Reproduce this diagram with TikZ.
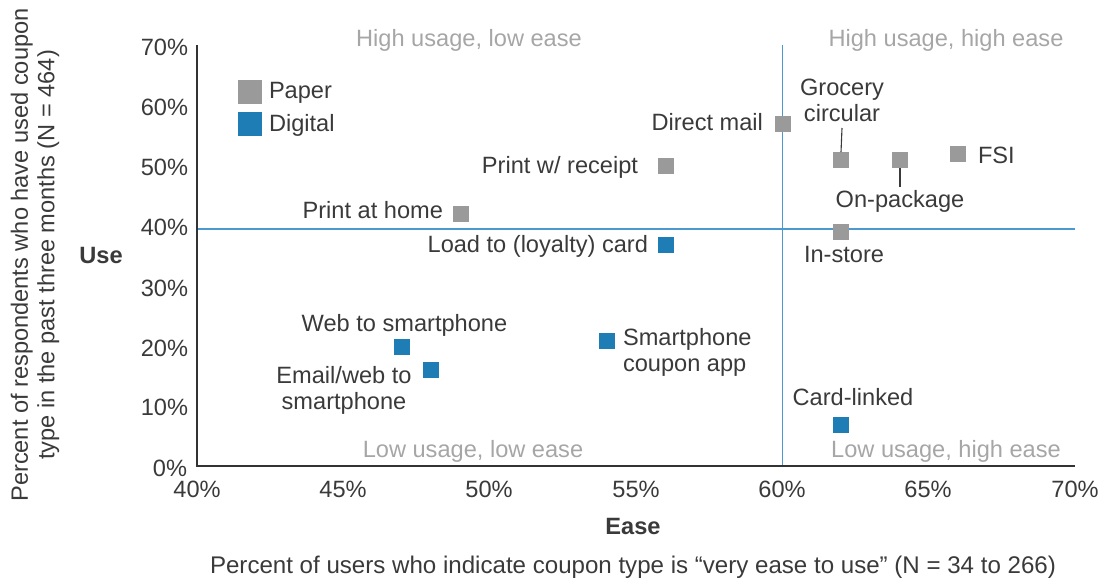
\documentclass[tikz,border=0pt]{standalone}
\usepackage{fontspec}
\setmainfont{Liberation Sans}
\definecolor{txt}{HTML}{3A3A3A}
\definecolor{qgray}{HTML}{A6A6A6}
\definecolor{pgray}{HTML}{9A9A9A}
\definecolor{dblue}{HTML}{1F7DB6}
\definecolor{lblue}{HTML}{4A9ACF}
\definecolor{axisc}{HTML}{333333}
\begin{document}
\begin{tikzpicture}[x=1pt,y=-1pt,
  every node/.style={inner sep=0pt, outer sep=0pt, text=txt, font=\fontsize{23.6}{26.5}\selectfont},
  paper/.style={fill=pgray, minimum size=16pt},
  digital/.style={fill=dblue, minimum size=16pt},
  legpaper/.style={fill=pgray, minimum size=24pt},
  legdigital/.style={fill=dblue, minimum size=24pt},
  quad/.style={text=qgray, anchor=base},
  tick/.style={anchor=base east},
  xtick/.style={anchor=base},
  bold/.style={font=\fontsize{23.6}{26.5}\selectfont\bfseries},
  spine/.style={draw=axisc, line width=1.3pt},
  divider/.style={draw=lblue, line width=1.2pt},
  leader/.style={draw=txt, line width=1.1pt}
]
\useasboundingbox (0,0) rectangle (1102,581);

% axes
\coordinate (otop) at (197,45);
\coordinate (orig) at (197,466);
\coordinate (xend) at (1075,466);
\coordinate (vtop) at (782.7,45);
\coordinate (vbot) at (782.7,466);
\coordinate (hl) at (197,229);
\coordinate (hr) at (1075,229);
\draw[divider] (vtop) -- (vbot);
\draw[divider] (hl) -- (hr);
\draw[spine] (otop) -- (orig) -- (xend);

% y tick labels
\node[tick] (y70) at (188,55) {70\%};
\node[tick] (y60) at (188,115) {60\%};
\node[tick] (y50) at (188,175) {50\%};
\node[tick] (y40) at (188,235) {40\%};
\node[tick] (y30) at (188,296) {30\%};
\node[tick] (y20) at (188,356) {20\%};
\node[tick] (y10) at (188,415) {10\%};
\node[tick] (y0) at (187,476) {0\%};

% x tick labels
\node[xtick] (x40) at (197,497) {40\%};
\node[xtick] (x45) at (343,497) {45\%};
\node[xtick] (x50) at (489,497) {50\%};
\node[xtick] (x55) at (636,497) {55\%};
\node[xtick] (x60) at (782,497) {60\%};
\node[xtick] (x65) at (928,497) {65\%};
\node[xtick] (x70) at (1075,497) {70\%};

% axis titles
\node[bold, anchor=base] (use) at (101,263) {Use};
\node[bold, anchor=base] (ease) at (633,534) {Ease};
\node[anchor=base, font=\fontsize{24.1}{27}\selectfont] (foot) at (633,573) {Percent of users who indicate coupon type is “very ease to use” (N = 34 to 266)};
\node[rotate=90, align=center] (ytitle) at (35,255) {Percent of respondents who have used coupon\\type in the past three months (N = 464)};

% quadrant labels
\node[quad] (q1) at (469,46) {High usage, low ease};
\node[quad] (q2) at (946,46) {High usage, high ease};
\node[quad] (q3) at (473,457) {Low usage, low ease};
\node[quad] (q4) at (946,457) {Low usage, high ease};

% legend
\node[legpaper] (legp) at (250,92) {};
\node[legdigital] (legd) at (250,123.7) {};
\node[anchor=base west] (legpt) at (269,98) {Paper};
\node[anchor=base west] (legdt) at (269,131) {Digital};

% paper points
\node[paper] (pah) at (460.7,214) {};
\node[anchor=base east] (pahl) at (443,218) {Print at home};
\node[paper] (pwr) at (666,166) {};
\node[anchor=base east] (pwrl) at (638,173) {Print w/ receipt};
\node[paper] (dm) at (783,124) {};
\node[anchor=base east] (dml) at (763,130) {Direct mail};
\node[paper] (groc) at (841,160) {};
\node[align=center, anchor=south, inner ysep=6pt] (grocl) at (842,128) {Grocery\\circular};
\node[paper] (onp) at (900,160) {};
\node[anchor=north, inner ysep=3pt] (onpl) at (900,187) {On-package};
\node[paper] (fsi) at (958,154) {};
\node[anchor=base west] (fsil) at (978,163) {FSI};
\node[paper] (ins) at (841,232) {};
\node[anchor=base] (insl) at (844,262) {In-store};

\draw[leader] (groc.north) -- (grocl.south);
\draw[leader] (onp.south) -- (onpl.north);

% digital points
\node[digital] (ltc) at (666,245) {};
\node[anchor=base east] (ltcl) at (648,252) {Load to (loyalty) card};
\node[digital] (wts) at (402,347) {};
\node[anchor=base] (wtsl) at (404.5,331) {Web to smartphone};
\node[digital] (ews) at (431,370) {};
\node[align=center, anchor=north] (ewsl) at (344,366) {Email/web to\\smartphone};
\node[digital] (sca) at (607,341) {};
\node[align=left, anchor=north west] (scal) at (623,328) {Smartphone\\coupon app};
\node[digital] (cl) at (841,425) {};
\node[anchor=base] (cll) at (853,405) {Card-linked};
\end{tikzpicture}
\end{document}
